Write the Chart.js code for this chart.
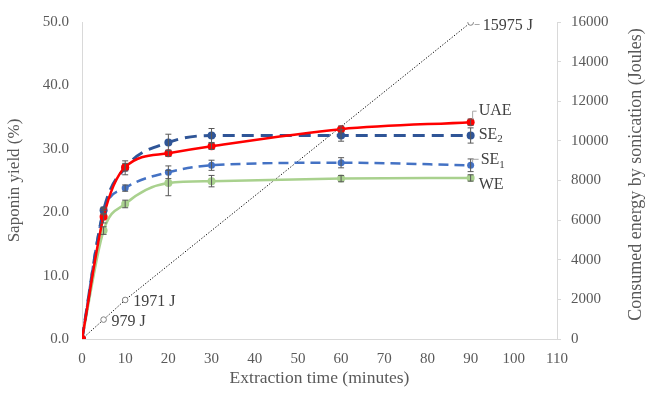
<!DOCTYPE html>
<html>
<head>
<meta charset="utf-8">
<script src="https://cdn.jsdelivr.net/npm/chart.js@4/dist/chart.umd.min.js"></script>
<style>
  html, body { margin: 0; padding: 0; background: #fff; }
  #wrap { width: 646px; height: 393px; }
</style>
</head>
<body>
<div id="wrap"><canvas id="grafico"></canvas></div>
<script>
// Tiempos de extracción (min) y rendimientos de saponina (%).
const tiempos = [0, 5, 10, 20, 30, 60, 90];
const uae = [0, 19.3, 27.1, 29.3, 30.4, 33.1, 34.2];
const se2 = [0, 20.3, 27.0, 31.0, 32.1, 32.1, 32.1];
const se1 = [0, 20.1, 23.8, 26.3, 27.4, 27.8, 27.4];
const we  = [0, 17.1, 21.3, 24.6, 24.9, 25.3, 25.4];

// Barras de error (+/-).
const errUae = [0, 1.0, 0.6, 0.5, 0.5, 0.5, 0.5];
const errSe2 = [0, 0.5, 1.1, 1.3, 1.1, 0.9, 1.2];
const errSe1 = [0, 0.5, 0.5, 1.0, 0.8, 0.8, 1.0];
const errWe  = [0, 0.6, 0.6, 2.0, 0.9, 0.5, 0.5];

// Energía consumida por sonicación (J).
const tiemposEnergia = [0, 5, 10, 90];
const energia = [0, 979, 1971, 15975];
const etiquetasEnergia = ["", "979 J", "1971 J", "15975 J"];

const GRIS = "#595959";
const FUENTE = "'Liberation Serif', 'Times New Roman', serif";

const pares = (xs, ys) => xs.map((x, i) => ({ x, y: ys[i] }));

// Barras de error, etiquetas de serie y título del eje derecho.
const extras = {
  id: "extras",
  afterDatasetsDraw(chart) {
    const { ctx } = chart;
    const y = chart.scales.y;
    ctx.save();
    ctx.strokeStyle = GRIS;
    ctx.lineWidth = 1;
    chart.data.datasets.forEach((ds, di) => {
      if (!ds.err) return;
      const meta = chart.getDatasetMeta(di);
      meta.data.forEach((pt, i) => {
        const e = ds.err[i];
        if (!e) return;
        const v = ds.data[i].y;
        const top = y.getPixelForValue(v + e);
        const bot = y.getPixelForValue(v - e);
        ctx.beginPath();
        ctx.moveTo(pt.x, top); ctx.lineTo(pt.x, bot);
        ctx.moveTo(pt.x - 3, top); ctx.lineTo(pt.x + 3, top);
        ctx.moveTo(pt.x - 3, bot); ctx.lineTo(pt.x + 3, bot);
        ctx.stroke();
      });
    });

    ctx.fillStyle = "#404040";
    ctx.textBaseline = "middle";
    ctx.textAlign = "left";
    const ultimo = (di) => {
      const m = chart.getDatasetMeta(di).data;
      return m[m.length - 1];
    };
    const texto = (t, sub, x, yy) => {
      ctx.font = "16px " + FUENTE;
      ctx.fillText(t, x, yy);
      if (sub) {
        const w = ctx.measureText(t).width;
        ctx.font = "11px " + FUENTE;
        ctx.fillText(sub, x + w, yy + 5);
      }
    };
    // Líneas guía
    ctx.strokeStyle = "#a6a6a6";
    let p = ultimo(0);
    ctx.beginPath(); ctx.moveTo(p.x + 2, p.y - 3); ctx.lineTo(p.x + 2, p.y - 11); ctx.lineTo(p.x + 6, p.y - 11); ctx.stroke();
    texto("UAE", null, p.x + 8, p.y - 11);
    p = ultimo(1);
    texto("SE", "2", p.x + 8, p.y - 1);
    p = ultimo(2);
    ctx.beginPath(); ctx.moveTo(p.x + 2, p.y - 3); ctx.lineTo(p.x + 2, p.y - 6); ctx.lineTo(p.x + 8, p.y - 6); ctx.stroke();
    texto("SE", "1", p.x + 10, p.y - 5);
    p = ultimo(3);
    texto("WE", null, p.x + 8, p.y + 7);

    const me = chart.getDatasetMeta(4).data;
    me.forEach((pt, i) => {
      const t = etiquetasEnergia[i];
      if (!t) return;
      if (i === me.length - 1) {
        ctx.beginPath(); ctx.moveTo(pt.x + 4, pt.y + 2); ctx.lineTo(pt.x + 9, pt.y + 2); ctx.stroke();
        texto(t, null, pt.x + 12, pt.y + 3);
      } else {
        texto(t, null, pt.x + 8, pt.y + 2);
      }
    });

    // Título del eje derecho, leído de abajo hacia arriba
    const a = chart.chartArea;
    ctx.fillStyle = GRIS;
    ctx.font = "18px " + FUENTE;
    ctx.textAlign = "center";
    ctx.textBaseline = "alphabetic";
    ctx.translate(chart.width - 5, (a.top + a.bottom) / 2 - 6);
    ctx.rotate(-Math.PI / 2);
    ctx.fillText("Consumed energy by sonication (Joules)", 0, 0);
    ctx.restore();
  }
};

const serie = (label, data, color, err, extra) => Object.assign({
  label,
  data: pares(tiempos, data),
  err,
  borderColor: color,
  backgroundColor: color,
  pointRadius: 4,
  pointBorderWidth: 0,
  pointBackgroundColor: color,
  borderWidth: 2.5,
  cubicInterpolationMode: "monotone",
  yAxisID: "y"
}, extra);

new Chart(document.getElementById("grafico"), {
  type: "line",
  data: {
    datasets: [
      serie("UAE", uae, "#FF0000", errUae, { order: 1 }),
      serie("SE2", se2, "#2F5597", errSe2, { borderDash: [12, 7], borderWidth: 3, order: 2 }),
      serie("SE1", se1, "#4472C4", errSe1, { borderDash: [10, 6], order: 3, pointRadius: 3.5 }),
      serie("WE", we, "#A9D18E", errWe, { order: 4 }),
      {
        label: "Energía",
        data: pares(tiemposEnergia, energia),
        borderColor: "#000000",
        borderWidth: 1,
        borderDash: [1.2, 1.8],
        pointRadius: 2.8,
        pointBackgroundColor: "#ffffff",
        pointBorderColor: "#808080",
        pointBorderWidth: 1,
        tension: 0,
        yAxisID: "y1",
        order: 5
      }
    ]
  },
  options: {
    responsive: true,
    maintainAspectRatio: false,
    animation: false,
    layout: { padding: { top: 18, right: 0, left: 0, bottom: 0 } },
    plugins: { legend: { display: false }, tooltip: { enabled: false } },
    scales: {
      x: {
        type: "linear",
        min: 0, max: 110,
        afterFit: s => { s.height = 54; },
        border: { color: "#d9d9d9" },
        grid: { display: true, drawOnChartArea: false, drawTicks: false, color: "#d9d9d9" },
        ticks: { stepSize: 10, color: GRIS, padding: 11, font: { family: FUENTE, size: 15 } },
        title: { display: true, text: "Extraction time (minutes)", color: GRIS, padding: { top: 2 }, font: { family: FUENTE, size: 17.5 } }
      },
      y: {
        position: "left",
        min: 0, max: 50,
        afterFit: s => { s.width = 82; },
        border: { color: "#d9d9d9" },
        grid: { display: true, drawOnChartArea: false, drawTicks: false, color: "#d9d9d9" },
        ticks: { stepSize: 10, color: GRIS, padding: 13, callback: v => v.toFixed(1), font: { family: FUENTE, size: 15 } },
        title: { display: true, text: "Saponin yield (%)", color: GRIS, padding: { bottom: 0 }, font: { family: FUENTE, size: 17 } }
      },
      y1: {
        position: "right",
        min: 0, max: 16000,
        afterFit: s => { s.width = 89; },
        border: { color: "#d9d9d9" },
        grid: { display: true, drawOnChartArea: false, drawTicks: true, tickLength: 4, color: "#d9d9d9" },
        ticks: { stepSize: 2000, color: GRIS, padding: 10, callback: v => String(v), font: { family: FUENTE, size: 15 } }
      }
    }
  },
  plugins: [extras]
});
</script>
</body>
</html>
